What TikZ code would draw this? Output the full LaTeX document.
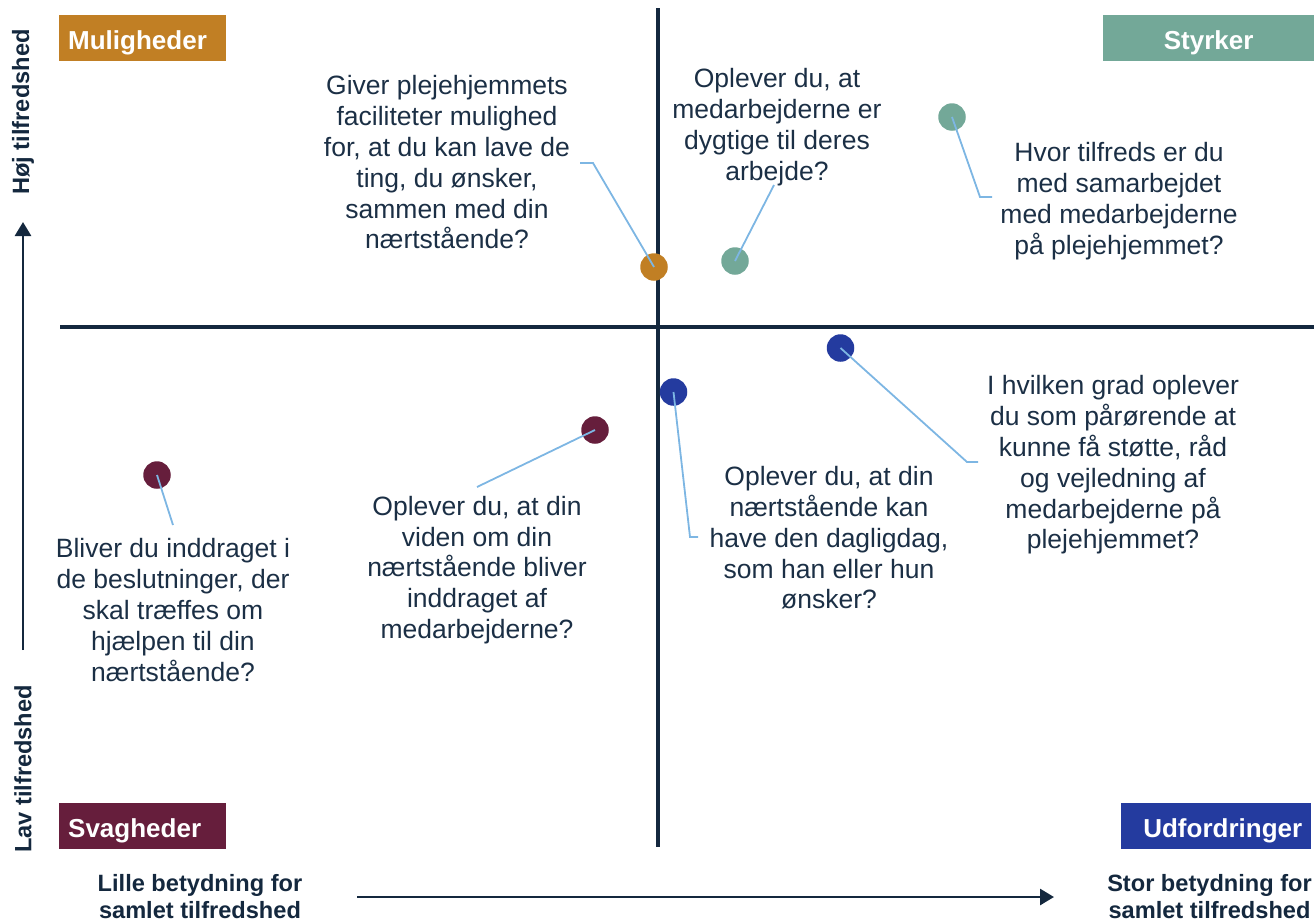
\documentclass[tikz,border=0pt]{standalone}
\usepackage{fontspec}
\setmainfont{Liberation Sans}
\usetikzlibrary{arrows.meta}
\definecolor{cOrange}{HTML}{C17F24}
\definecolor{cTeal}{HTML}{73A898}
\definecolor{cMaroon}{HTML}{661E3C}
\definecolor{cBlue}{HTML}{243B9F}
\definecolor{cConn}{HTML}{7DB6E3}
\definecolor{cText}{HTML}{1B2F45}
\definecolor{cAxis}{HTML}{14283E}
\newcommand{\qfont}{\fontsize{26.5}{30.8}\selectfont}
\newcommand{\lblfont}{\fontsize{26}{30}\selectfont\bfseries}
\newcommand{\axfont}{\fontsize{23.6}{27}\selectfont\bfseries}
\begin{document}
\begin{tikzpicture}[x=1pt,y=-1pt,
  question/.style={inner sep=0pt, align=center, font=\qfont, text=cText},
  quadlabel/.style={inner ysep=0pt, inner xsep=9pt, minimum height=46pt, text height=22pt, text depth=0pt, font=\lblfont, text=white},
  axislabel/.style={inner sep=0pt, align=center, font=\axfont, text=cAxis},
  dotnode/.style={circle, inner sep=0pt, minimum size=27.5pt, draw=none},
  conn/.style={draw=cConn, line width=1.8pt},
  quadaxis/.style={draw=cAxis, line width=3.6pt},
  dimaxis/.style={draw=cAxis, line width=2.8pt, -{Triangle[length=14pt,width=16pt]}}
]
\useasboundingbox (0,0) rectangle (1314,921);

% quadrant axes
\coordinate (vt) at (658,8);
\coordinate (vb) at (658,847);
\coordinate (hl) at (60,327);
\coordinate (hr) at (1314,327);
\draw[quadaxis] (vt) -- (vb);
\draw[quadaxis] (hl) -- (hr);

% quadrant labels
\node[quadlabel, fill=cOrange, text width=149pt, align=left, anchor=north west] (mul) at (59,15) {Muligheder};
\node[quadlabel, fill=cTeal, text width=193pt, align=center, anchor=north west] (sty) at (1103,15) {Styrker};
\node[quadlabel, fill=cMaroon, text width=149pt, align=left, anchor=north west] (sva) at (59,803) {Svagheder};
\node[quadlabel, fill=cBlue, text width=172pt, align=right, anchor=north west] (udf) at (1121,803) {Udfordringer};

% dimension axes
\node[axislabel, rotate=90] (hoj) at (23,112) {Høj tilfredshed};
\node[axislabel, rotate=90] (lav) at (23,769) {Lav tilfredshed};
\coordinate (ya) at (23,650);
\coordinate (yb) at (23,222);
\draw[dimaxis] (ya) -- (yb);
\node[axislabel] (lille) at (200,897) {Lille betydning for\\samlet tilfredshed};
\node[axislabel] (stor) at (1209.5,897) {Stor betydning for\\samlet tilfredshed};
\coordinate (xa) at (357,897);
\coordinate (xb) at (1054,897);
\draw[dimaxis] (xa) -- (xb);

% dots
\node[dotnode, fill=cOrange] (d1) at (654,267) {};
\node[dotnode, fill=cTeal] (d2) at (735,261) {};
\node[dotnode, fill=cTeal] (d3) at (952,117) {};
\node[dotnode, fill=cBlue] (d4) at (840.5,348) {};
\node[dotnode, fill=cBlue] (d5) at (673.5,392) {};
\node[dotnode, fill=cMaroon] (d6) at (595,430) {};
\node[dotnode, fill=cMaroon] (d7) at (157,475) {};

% questions
\node[question] (t1) at (447,162.5) {Giver plejehjemmets\\faciliteter mulighed\\for, at du kan lave de\\ting, du ønsker,\\sammen med din\\nærtstående?};
\node[question] (t2) at (777,127) {Oplever du, at\\medarbejderne er\\dygtige til deres\\arbejde?};
\node[question] (t3) at (1119,201) {Hvor tilfreds er du\\med samarbejdet\\med medarbejderne\\på plejehjemmet?};
\node[question] (t4) at (1113,465) {I hvilken grad oplever\\du som pårørende at\\kunne få støtte, råd\\og vejledning af\\medarbejderne på\\plejehjemmet?};
\node[question] (t5) at (829,538) {Oplever du, at din\\nærtstående kan\\have den dagligdag,\\som han eller hun\\ønsker?};
\node[question] (t6) at (477,570) {Oplever du, at din\\viden om din\\nærtstående bliver\\inddraget af\\medarbejderne?};
\node[question] (t7) at (173,610) {Bliver du inddraget i\\de beslutninger, der\\skal træffes om\\hjælpen til din\\nærtstående?};

% connectors
\coordinate (c1) at (580,163);
\coordinate (c2) at (774,185);
\coordinate (c3) at (992,197);
\coordinate (c4) at (978,462);
\coordinate (c5) at (698,537);
\coordinate (c6) at (477,487);
\coordinate (c7) at (173,525);
\draw[conn] (d1.center) -- (593,163) -- (c1);
\draw[conn] (d2.center) -- (c2);
\draw[conn] (d3.center) -- (980,197) -- (c3);
\draw[conn] (d4.center) -- (967,462) -- (c4);
\draw[conn] (d5.center) -- (690,537) -- (c5);
\draw[conn] (d6.center) -- (c6);
\draw[conn] (d7.center) -- (c7);
\end{tikzpicture}
\end{document}
